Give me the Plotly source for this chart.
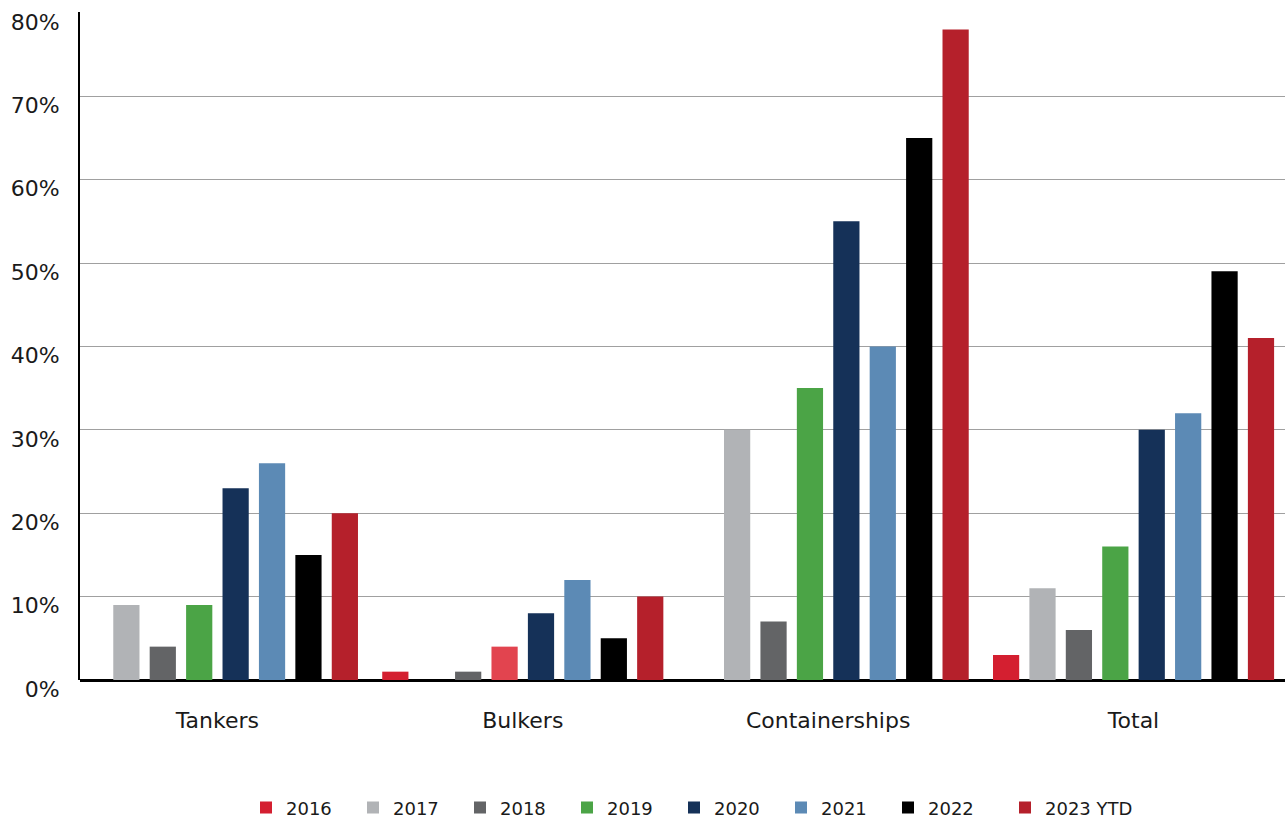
import plotly.graph_objects as go

# Share of fleet by vessel segment and year (%)
categories = ["Tankers", "Bulkers", "Containerships", "Total"]
years = ["2016", "2017", "2018", "2019", "2020", "2021", "2022", "2023 YTD"]

v2016 = [0, 1, 0, 3]
v2017 = [9, 0, 30, 11]
v2018 = [4, 1, 7, 6]
v2019 = [9, 4, 35, 16]
v2020 = [23, 8, 55, 30]
v2021 = [26, 12, 40, 32]
v2022 = [15, 5, 65, 49]
v2023 = [20, 10, 78, 41]

y_ticks = [0, 10, 20, 30, 40, 50, 60, 70, 80]

series = [v2016, v2017, v2018, v2019, v2020, v2021, v2022, v2023]
colors = ["#d41f30", "#b1b3b6", "#636466", "#4ba446",
          "#153158", "#5c8ab5", "#000000", "#b5202b"]

fig = go.Figure()
for name, vals, col in zip(years, series, colors):
    marker_color = [col] * len(categories)
    if name == "2019":
        # Bulkers bar for 2019 is highlighted in a lighter red
        marker_color[categories.index("Bulkers")] = "#e2444f"
    # the last entry sits in its own legend so its longer label is not clipped
    fig.add_trace(go.Bar(
        x=categories, y=vals, name=name,
        marker=dict(color=marker_color, line=dict(width=0)),
        legend="legend2" if name == years[-1] else "legend",
    ))

font_family = "DejaVu Sans, Open Sans, sans-serif"
legend_font = dict(size=18, family=font_family, color="#1a1a1a")

fig.update_layout(
    width=1288, height=821,
    margin=dict(l=80, r=3, t=12, b=141, autoexpand=False),
    paper_bgcolor="white", plot_bgcolor="white",
    barmode="group", bargap=0.046, bargroupgap=0.28,
    font=dict(family=font_family, color="#1a1a1a"),
    legend=dict(
        orientation="h", x=246 / 1288, xanchor="left", xref="container",
        y=0.016, yanchor="middle", yref="container",
        font=legend_font, traceorder="normal", entrywidth=62, itemwidth=30,
    ),
    legend2=dict(
        orientation="h", x=1005 / 1288, xanchor="left", xref="container",
        y=0.016, yanchor="middle", yref="container",
        font=legend_font, itemwidth=30,
    ),
    xaxis=dict(
        type="category", range=[-0.45, 3.496],
        showgrid=False, showline=False,
        ticks="", tickfont=dict(size=22, family=font_family, color="#1a1a1a"),
        ticklabelstandoff=25,
    ),
    yaxis=dict(
        range=[0, 80.1], tickvals=y_ticks,
        ticktext=[f"{t}%" for t in y_ticks],
        tickfont=dict(size=22, family=font_family, color="#1a1a1a"),
        showgrid=True, gridcolor="#a0a0a0", gridwidth=1,
        showline=True, linecolor="#000000", linewidth=2,
        zeroline=True, zerolinecolor="#000000", zerolinewidth=3,
        ticks="", ticklabelstandoff=14, ticklabelshift=9,
    ),
)

fig.write_html("out.html")
